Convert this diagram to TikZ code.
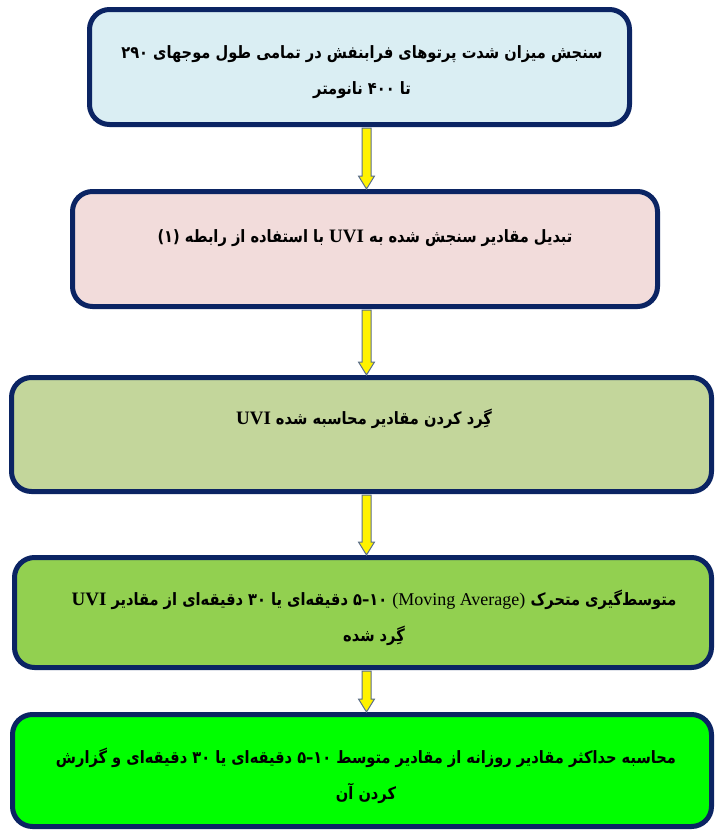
\documentclass[tikz,border=0pt]{standalone}
\usepackage{fontspec}
\usetikzlibrary{calc}
\TeXXeTstate=1
\newfontfamily\fa[Script=Arabic, FakeStretch=0.86]{DejaVu Sans}
\newfontfamily\lat{Liberation Serif}
\newcommand\rl[1]{\beginR#1\endR}
\newcommand\nm[1]{\beginL#1\endL{}}
\newcommand\uvi{\beginL{\lat\bfseries\fontsize{19}{36}\selectfont UVI}\endL{}}
\definecolor{navy}{HTML}{0B2463}
\definecolor{arrline}{HTML}{5A6E8C}
\definecolor{c1}{HTML}{DAEEF3}
\definecolor{c2}{HTML}{F2DCDB}
\definecolor{c3}{HTML}{C3D69B}
\definecolor{c4}{HTML}{92D050}
\definecolor{c5}{HTML}{00FF00}
\tikzset{
  box/.style={draw=navy, line width=5pt, rounded corners=20pt, inner sep=0pt},
  txt/.style={font=\fa\bfseries\fontsize{17}{36}\selectfont, align=center, inner sep=0pt, text=black},
  blockarr/.style={fill=yellow, draw=arrline, line width=1pt, line join=miter}
}
\begin{document}
\begin{tikzpicture}[x=1pt,y=-1pt]
\useasboundingbox (0,0) rectangle (715,831);
\fill[white] (0,0) rectangle (715,831);
\node[box, fill=c1, minimum width=540pt, minimum height=115pt] (b1) at (359.5,67) {};
\node[box, fill=c2, minimum width=585pt, minimum height=115pt] (b2) at (365,249) {};
\node[box, fill=c3, minimum width=700pt, minimum height=114pt] (b3) at (361.5,434.5) {};
\node[box, fill=c4, minimum width=697pt, minimum height=110pt] (b4) at (363,612.5) {};
\node[box, fill=c5, minimum width=699pt, minimum height=112pt] (b5) at (362,770.5) {};
\node[txt] (t1) at (362,72) {\rl{سنجش میزان شدت پرتوهای فرابنفش در تمامی طول موجهای \nm{۲۹۰}}\\\rl{تا \nm{۴۰۰} نانومتر}};
\node[txt] (t2) at (365,238) {\rl{تبدیل مقادیر سنجش شده به \uvi{} با استفاده از رابطه \nm{(۱)}}};
\node[txt] (t3) at (364,419) {\rl{گِرد کردن مقادیر محاسبه شده \uvi}};
\node[txt] (t4) at (374,618) {\rl{متوسط‌گیری متحرک \beginL{\lat\mdseries\fontsize{18}{36}\selectfont(Moving Average)}\endL{} \nm{۱۰–۵} دقیقه‌ای یا \nm{۳۰} دقیقه‌ای از مقادیر \uvi}\\\rl{گِرد شده}};
\node[txt] (t5) at (366,776) {\rl{محاسبه حداکثر مقادیر روزانه از مقادیر متوسط \nm{۱۰–۵} دقیقه‌ای یا \nm{۳۰} دقیقه‌ای و گزارش}\\\rl{کردن آن}};
\coordinate (ax) at (366.5,0);
\foreach \a/\b in {b1/b2,b2/b3,b3/b4,b4/b5}{
  \draw[blockarr] let \p1=(\a.south -| ax), \p2=(\b.north -| ax) in
    (\x1-4.5pt,\y1-1pt) -- (\x1+4.5pt,\y1-1pt) -- (\x1+4.5pt,\y2+13pt) -- (\x1+8pt,\y2+13pt)
    -- (\x1,\y2) -- (\x1-8pt,\y2+13pt) -- (\x1-4.5pt,\y2+13pt) -- cycle;
}
\end{tikzpicture}
\end{document}
